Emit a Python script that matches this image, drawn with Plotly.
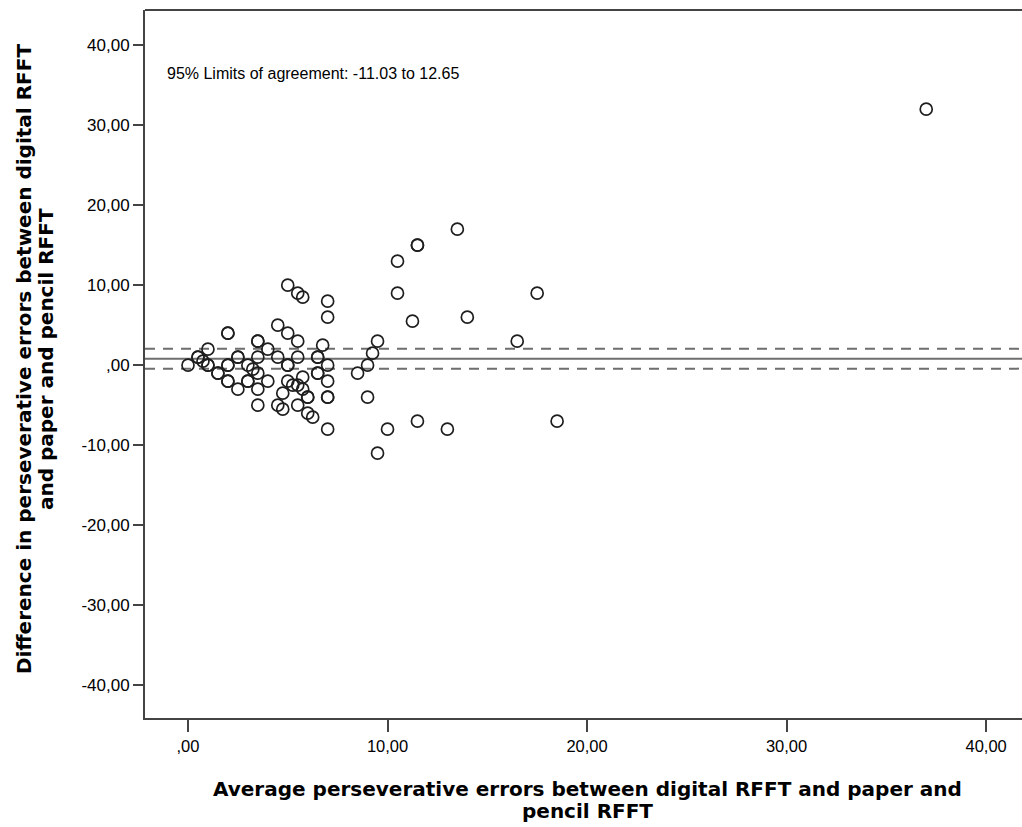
import plotly.graph_objects as go

# Average of the two methods (x) and their difference (y); duplicated pairs are overlapping cases
avg_errors = [0, 0.5, 0.5, 0.75, 1, 1, 1, 1.5, 1.5, 2, 2, 2, 2, 2, 2, 2.5, 2.5, 2.5,
              3, 3, 3, 3.25, 3.5, 3.5, 3.5, 3.5, 3.5, 3.5, 4, 4, 4.5, 4.5, 4.5, 4.75, 4.75,
              5, 5, 5, 5, 5, 5.25, 5.5, 5.5, 5.5, 5.5, 5.5, 5.75, 5.75, 5.75, 6, 6, 6, 6.25,
              6.5, 6.5, 6.5, 6.5, 6.75, 7, 7, 7, 7, 7, 7, 7, 8.5, 9, 9.25, 9.5, 9, 9.5, 10,
              10.5, 10.5, 11.25, 11.5, 11.5, 11.5, 13, 13.5, 14, 16.5, 17.5, 18.5, 37]
diff_errors = [0, 1, 1, 0.5, 2, 0, 0, -1, -1, 4, 4, 0, 0, -2, -2, 1, 1, -3,
               0, -2, -2, -0.5, 3, 3, 1, -1, -3, -5, 2, -2, 5, 1, -5, -3.5, -5.5,
               10, 4, 0, 0, -2, -2.5, 9, 3, 1, -2.5, -5, 8.5, -1.5, -3, -4, -4, -6, -6.5,
               1, 1, -1, -1, 2.5, 8, 6, 0, -2, -4, -4, -8, -1, 0, 1.5, 3, -4, -11, -8,
               13, 9, 5.5, 15, 15, -7, -8, 17, 6, 3, 9, -7, 32]

mean_diff = 0.81
ci_lower = -0.43
ci_upper = 2.05
loa_text = "95% Limits of agreement: -11.03 to 12.65"

x_title_lines = ["Average perseverative errors between digital RFFT and paper and", "pencil RFFT"]
y_title_lines = ["Difference in perseverative errors between digital RFFT", "and paper and pencil RFFT"]

x_ticks = [0, 10, 20, 30, 40]
x_ticklabels = [",00", "10,00", "20,00", "30,00", "40,00"]
y_ticks = [-40, -30, -20, -10, 0, 10, 20, 30, 40]
y_ticklabels = ["-40,00", "-30,00", "-20,00", "-10,00", ",00", "10,00", "20,00", "30,00", "40,00"]

x_range = [-2.155, 41.8]
y_range = [-44.1, 44.4]

fig = go.Figure()

line_col = "#6e6e6e"
for val, dash in [(mean_diff, "solid"), (ci_upper, "10px,8px"), (ci_lower, "10px,8px")]:
    fig.add_trace(go.Scatter(x=x_range, y=[val, val], mode="lines",
                             line=dict(color=line_col, width=2, dash=dash),
                             hoverinfo="skip", showlegend=False))

fig.add_trace(go.Scatter(x=avg_errors, y=diff_errors, mode="markers",
                         marker=dict(symbol="circle-open", size=12, color="#1e1e1e",
                                     line=dict(width=1.7, color="#1e1e1e")),
                         showlegend=False))

font_family = "Liberation Sans, Arial, sans-serif"
title_family = "DejaVu Sans, Verdana, sans-serif"
title_font = dict(size=20, family=title_family, color="black")

annotations = [
    dict(text=loa_text, xref="paper", yref="paper", x=0.0228, y=0.911,
         xanchor="left", yanchor="middle", showarrow=False,
         font=dict(size=16, family=font_family, color="black")),
]
for txt, shift in zip(x_title_lines, [-71, -93]):
    annotations.append(dict(text="<b>" + txt + "</b>", xref="paper", yref="paper",
                            x=0.505, y=0, yshift=shift, xanchor="center", yanchor="middle",
                            showarrow=False, font=title_font))
for txt, shift in zip(y_title_lines, [-121, -99]):
    annotations.append(dict(text="<b>" + txt + "</b>", xref="paper", yref="paper",
                            x=0, xshift=shift, y=0.507, textangle=-90,
                            xanchor="center", yanchor="middle",
                            showarrow=False, font=title_font))

fig.update_layout(
    width=1022, height=827,
    margin=dict(l=145, r=0, t=10, b=109),
    paper_bgcolor="white", plot_bgcolor="white",
    font=dict(family=font_family, color="black", size=16),
    showlegend=False,
    xaxis=dict(range=x_range, tickvals=x_ticks, ticktext=x_ticklabels,
               showgrid=False, zeroline=False, showline=True, linecolor="#444444",
               linewidth=2, ticks="outside", ticklen=12, tickwidth=2, tickcolor="#444444",
               tickfont=dict(size=16.5, family=font_family)),
    yaxis=dict(range=y_range, tickvals=y_ticks, ticktext=y_ticklabels,
               showgrid=False, zeroline=False, showline=True, linecolor="#444444",
               linewidth=2, ticks="outside", ticklen=10, tickwidth=2, tickcolor="#444444",
               tickfont=dict(size=17, family=font_family)),
    shapes=[dict(type="line", xref="paper", yref="paper", x0=0, x1=1, y0=1, y1=1,
                 line=dict(color="#444444", width=2))],
    annotations=annotations,
)

fig.write_html("out.html")
